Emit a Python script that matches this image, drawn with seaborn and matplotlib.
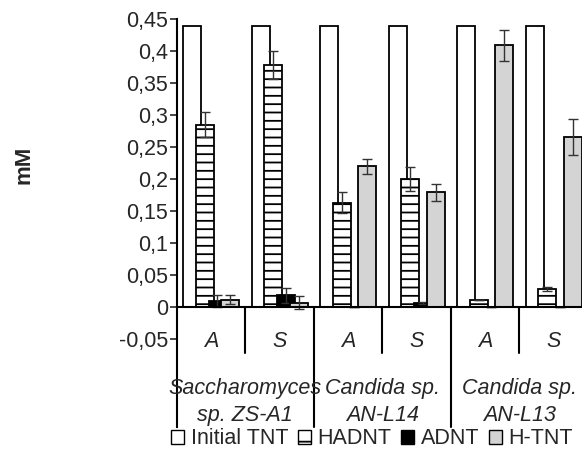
import numpy as np
import matplotlib
matplotlib.use("Agg")
import matplotlib.pyplot as plt
import seaborn as sns
from matplotlib.patches import Patch

# -------------------------
# Data
# -------------------------
conditions = ["A", "S", "A", "S", "A", "S"]
strains = ["Saccharomyces\nsp. ZS-A1", "Candida sp.\nAN-L14", "Candida sp.\nAN-L13"]
series = ["Initial TNT", "HADNT", "ADNT", "H-TNT"]

initial_tnt = [0.44, 0.44, 0.44, 0.44, 0.44, 0.44]
hadnt = [0.285, 0.378, 0.163, 0.200, 0.011, 0.028]
adnt = [0.009, 0.018, 0.0, 0.006, 0.0, 0.0]
h_tnt = [0.011, 0.006, 0.220, 0.179, 0.409, 0.266]

hadnt_err = [0.020, 0.022, 0.016, 0.019, 0.0, 0.003]
adnt_err = [0.010, 0.012, 0.0, 0.002, 0.0, 0.0]
h_tnt_err = [0.007, 0.010, 0.012, 0.013, 0.025, 0.028]

y_ticks = [-0.05, 0, 0.05, 0.1, 0.15, 0.2, 0.25, 0.3, 0.35, 0.4, 0.45]

# -------------------------
# Style
# -------------------------
sns.set_style("white")
plt.rcParams["font.family"] = ["Liberation Sans", "DejaVu Sans"]
plt.rcParams["hatch.linewidth"] = 1.3
FS = 15.5

fig = plt.figure(figsize=(5.82, 4.63), dpi=100)
W, H = 582, 463
left_px, right_px = 176.7, 587.7
top_px, bot_px = 19.3, 427.0
ax = fig.add_axes([left_px / W, 1 - bot_px / H, (right_px - left_px) / W, (bot_px - top_px) / H])

x = np.arange(len(conditions))
width = 0.26
offsets = [-0.275, -0.09, 0.095, 0.28]
values = [initial_tnt, hadnt, adnt, h_tnt]
errors = [None, hadnt_err, adnt_err, h_tnt_err]
faces = ["white", "white", "black", "#d4d4d4"]
hatches = [None, "--", None, None]

for i in range(4):
    ax.bar(x + offsets[i], values[i], width=width, color=faces[i], edgecolor="black",
           linewidth=1.3, hatch=hatches[i], zorder=2 + i)
    if errors[i] is not None:
        ax.errorbar(x + offsets[i], values[i], yerr=errors[i], fmt="none", ecolor="#333333",
                    elinewidth=1.0, capsize=3.5, capthick=1.0, zorder=2 + i)

ymin = -(bot_px - 306.7) / ((306.7 - top_px) / 0.45)
ax.set_xlim(-0.5, 5.5)
ax.set_ylim(ymin, 0.45)

# axis decoration
for s in ["top", "right", "bottom"]:
    ax.spines[s].set_visible(False)
ax.spines["left"].set_linewidth(1.5)
ax.spines["left"].set_color("black")
ax.axhline(0, color="black", linewidth=1.5, zorder=10)

ax.set_yticks(y_ticks)
ax.set_yticklabels([f"{v:g}".replace(".", ",") for v in y_ticks], fontsize=FS)
ax.tick_params(axis="y", direction="out", length=5, width=1.2, left=True, pad=1)
ax.set_xticks([])

# category separators and labels
for k in range(1, 6):
    low = ymin if k % 2 == 0 else -0.072
    ax.plot([k - 0.5, k - 0.5], [0, low], color="black", linewidth=1.5, clip_on=False)
ax.plot([5.5, 5.5], [0, ymin], color="black", linewidth=1.5, clip_on=False)

for xi, c in zip(x, conditions):
    ax.text(xi, -0.054, c, ha="center", va="center", fontsize=FS, style="italic")

for g, name in enumerate(strains):
    l1, l2 = name.split("\n")
    ax.text(2 * g + 0.5, -0.128, l1, ha="center", va="center", fontsize=FS, style="italic")
    ax.text(2 * g + 0.5, -0.171, l2, ha="center", va="center", fontsize=FS, style="italic")

fig.text(24 / W, 1 - 165 / H, "mM", rotation=90, ha="center", va="center",
         fontsize=16, fontweight="bold")

handles = [Patch(facecolor=faces[i], edgecolor="black", linewidth=1.0,
                 hatch=("-" if hatches[i] else None)) for i in range(4)]
fig.legend(handles, series, loc="center", bbox_to_anchor=(372 / W, 1 - 439 / H), ncol=4,
           frameon=False, fontsize=FS, handlelength=0.6, handleheight=0.6,
           handletextpad=0.3, columnspacing=0.45, borderpad=0)

fig.savefig("out.png", dpi=100)
